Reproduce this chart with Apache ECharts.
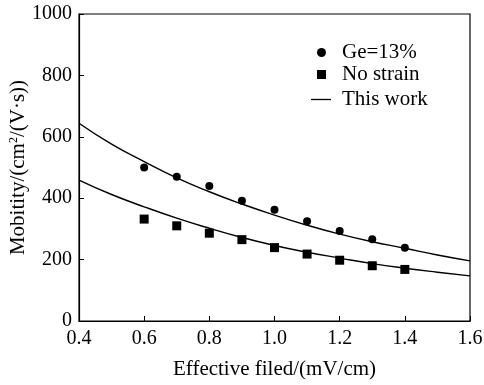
<!DOCTYPE html>
<html><head><meta charset="utf-8">
<script src="https://cdn.jsdelivr.net/npm/echarts@6/dist/echarts.min.js"></script>
<style>html,body{margin:0;padding:0;background:#fff}#c{width:484px;height:385px}</style>
</head><body><div id="c"></div>
<script>
var xPoints = [0.6, 0.7, 0.8, 0.9, 1.0, 1.1, 1.2, 1.3, 1.4];
var geValues = [500, 470, 440, 392, 362, 325, 293, 266, 239];
var noStrainValues = [332, 310, 286, 265, 239, 218, 198, 180, 168];
var xCurve = [0.4, 0.5, 0.6, 0.7, 0.8, 0.9, 1.0, 1.1, 1.2, 1.3, 1.4, 1.5, 1.6];
var fitGe = [644, 576, 519, 466, 421, 381, 345, 312, 283, 258, 237, 215, 196];
var fitNoStrain = [459, 412, 372, 335, 302, 272, 246, 224, 205, 187, 172, 159, 147];
var xTicks = [0.4, 0.6, 0.8, 1.0, 1.2, 1.4, 1.6];
var yTicks = [0, 200, 400, 600, 800, 1000];

function pairs(xs, ys) { return xs.map(function (x, i) { return [x, ys[i]]; }); }

var font = 'Liberation Serif';
var fs = 20;
var nfs = 21;
var legendText = { fontFamily: font, fontSize: 21, color: '#000' };
var chart = echarts.init(document.getElementById('c'));
chart.setOption({
  animation: false,
  grid: { left: 79, right: 14, top: 14, bottom: 64, outerBoundsMode: 'none', containLabel: false,
    show: true, borderColor: '#000', borderWidth: 1.2, backgroundColor: 'transparent' },
  legend: [
    {
      orient: 'vertical', left: 312, top: 37, itemWidth: 9, itemHeight: 9, itemGap: 1,
      textStyle: Object.assign({ padding: [0, 0, 0, 11] }, legendText),
      data: [
        { name: 'Ge=13%', icon: 'circle' },
        { name: 'No strain', icon: 'rect' }
      ]
    },
    {
      orient: 'vertical', left: 306, top: 84, itemWidth: 20, itemHeight: 9,
      textStyle: Object.assign({ padding: [0, 0, 0, 6] }, legendText),
      data: [
        { name: 'This work', icon: 'path://M0,0 L20,0 L20,1.3 L0,1.3 Z' }
      ]
    }
  ],
  xAxis: {
    type: 'value', min: 0.4, max: 1.6, interval: 0.2,
    name: 'Effective filed/(mV/cm)', nameLocation: 'middle', nameGap: 38, nameMoveOverlap: false,
    nameTextStyle: { fontFamily: font, fontSize: nfs, color: '#000' },
    axisLine: { lineStyle: { color: '#000', width: 1.2 } },
    axisTick: { inside: true, length: 5, lineStyle: { color: '#000' } },
    axisLabel: { fontFamily: font, fontSize: fs, color: '#000', margin: 8,
      formatter: function (v) { return v.toFixed(1); } },
    splitLine: { show: false }
  },
  yAxis: {
    type: 'value', min: 0, max: 1000, interval: 200,
    name: '{a|Mobitity/(cm}{s|2}{a|/(V·s))}', nameLocation: 'middle', nameGap: 50, nameMoveOverlap: false,
    nameTextStyle: { fontFamily: font, fontSize: nfs, color: '#000',
      rich: { a: { fontFamily: font, fontSize: nfs, color: '#000' },
              s: { fontFamily: font, fontSize: 12, color: '#000', verticalAlign: 'top', padding: [0, 0, 9, 0] } } },
    axisLine: { show: true, lineStyle: { color: '#000', width: 1.2 } },
    axisTick: { show: true, inside: true, length: 5, lineStyle: { color: '#000' } },
    axisLabel: { fontFamily: font, fontSize: fs, color: '#000', margin: 7,
      formatter: function (v) { return String(v); } },
    splitLine: { show: false }
  },
  series: [
    { name: 'Ge=13%', type: 'scatter', symbol: 'circle', symbolSize: 8,
      itemStyle: { color: '#000', opacity: 1 }, data: pairs(xPoints, geValues) },
    { name: 'No strain', type: 'scatter', symbol: 'rect', symbolSize: 9,
      itemStyle: { color: '#000', opacity: 1 }, data: pairs(xPoints, noStrainValues) },
    { name: 'This work', type: 'line', smooth: true, showSymbol: false, symbol: 'none',
      lineStyle: { color: '#000', width: 1.4 }, itemStyle: { color: '#000' }, data: pairs(xCurve, fitGe) },
    { name: 'This work', type: 'line', smooth: true, showSymbol: false, symbol: 'none',
      lineStyle: { color: '#000', width: 1.4 }, itemStyle: { color: '#000' }, data: pairs(xCurve, fitNoStrain) }
  ]
});
</script></body></html>
